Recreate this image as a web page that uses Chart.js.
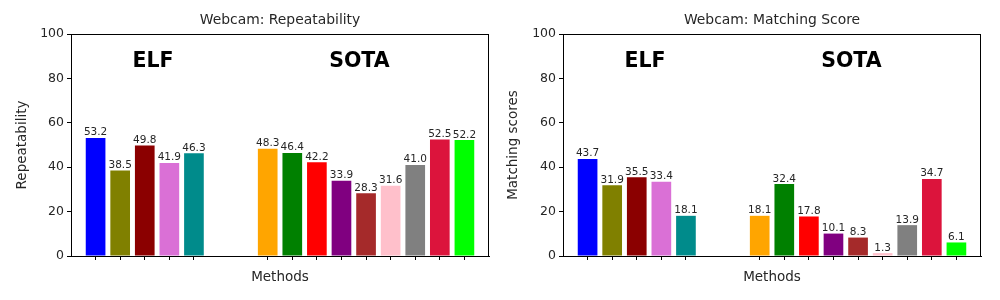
<!DOCTYPE html>
<html>
<head>
<meta charset="utf-8">
<script src="https://cdn.jsdelivr.net/npm/chart.js@4"></script>
<style>
  html, body { margin: 0; padding: 0; background: #fff; }
  .wrap { display: flex; width: 1000px; height: 300px; }
  .cell { position: relative; width: 500px; height: 300px; }
</style>
</head>
<body>
<div class="wrap">
  <div class="cell"><canvas id="repeatChart" width="500" height="300"></canvas></div>
  <div class="cell"><canvas id="matchChart" width="500" height="300"></canvas></div>
</div>
<script>
// bar slots: -1 .. 16, ELF at 0..4, SOTA at 7..15
const positions = [-1, 0, 1, 2, 3, 4, 5, 6, 7, 8, 9, 10, 11, 12, 13, 14, 15, 16];
const elfSlots = [0, 1, 2, 3, 4];
const sotaSlots = [7, 8, 9, 10, 11, 12, 13, 14, 15];

const elfColors = ['#0000ff', '#808000', '#8b0000', '#da70d6', '#008b8b'];
const sotaColors = ['#ffa500', '#008000', '#ff0000', '#800080', '#a52a2a', '#ffc0cb', '#808080', '#dc143c', '#00ff00'];

const elfRepeat = [53.2, 38.5, 49.8, 41.9, 46.3];
const sotaRepeat = [48.3, 46.4, 42.2, 33.9, 28.3, 31.6, 41.0, 52.5, 52.2];

const elfMatch = [43.7, 31.9, 35.5, 33.4, 18.1];
const sotaMatch = [18.1, 32.4, 17.8, 10.1, 8.3, 1.3, 13.9, 34.7, 6.1];

const yTicks = [0, 20, 40, 60, 80, 100];
const FONT = '"DejaVu Sans", sans-serif';
const TEXT = '#262626';

function slotValues(elf, sota) {
  return positions.map(p => {
    let i = elfSlots.indexOf(p);
    if (i >= 0) return elf[i];
    i = sotaSlots.indexOf(p);
    if (i >= 0) return sota[i];
    return null;
  });
}

function slotColors() {
  return positions.map(p => {
    let i = elfSlots.indexOf(p);
    if (i >= 0) return elfColors[i];
    i = sotaSlots.indexOf(p);
    if (i >= 0) return sotaColors[i];
    return 'rgba(0,0,0,0)';
  });
}

const decorPlugin = {
  id: 'decor',
  afterDatasetsDraw(chart, args, opts) {
    const ctx = chart.ctx;
    const area = chart.chartArea;
    const xs = chart.scales.x;
    const ys = chart.scales.y;
    ctx.save();

    // frame
    ctx.strokeStyle = '#000';
    ctx.lineWidth = 1;
    ctx.strokeRect(Math.round(area.left) + 0.5, Math.round(area.top) + 0.5,
      Math.round(area.right - area.left) - 1, Math.round(area.bottom - area.top));

    // value labels
    ctx.fillStyle = TEXT;
    ctx.font = '10.5px ' + FONT;
    ctx.textAlign = 'center';
    ctx.textBaseline = 'bottom';
    const meta = chart.getDatasetMeta(0);
    chart.data.datasets[0].data.forEach((v, i) => {
      if (v === null) return;
      const bar = meta.data[i];
      ctx.fillText(v.toFixed(1), bar.x, bar.y);
    });

    // group labels
    ctx.fillStyle = '#000';
    ctx.font = 'bold 20.5px ' + FONT;
    ctx.textAlign = 'left';
    ctx.textBaseline = 'alphabetic';
    const px = p => xs.getPixelForValue(p + 1);
    ctx.fillText('ELF', px(1.5), ys.getPixelForValue(85));
    ctx.fillText('SOTA', px(9.5), ys.getPixelForValue(85));

    // titles
    ctx.fillStyle = TEXT;
    ctx.font = '13.9px ' + FONT;
    ctx.textAlign = 'center';
    ctx.textBaseline = 'middle';
    const cx = (area.left + area.right) / 2;
    ctx.fillText(opts.title, cx, 20);
    ctx.font = '13.5px ' + FONT;
    ctx.fillText('Methods', cx, 277);
    ctx.translate(opts.yTitleX, (area.top + area.bottom) / 2);
    ctx.rotate(-Math.PI / 2);
    ctx.fillText(opts.yTitle, 0, 0);
    ctx.restore();
  }
};

function makeChart(id, elf, sota, title, yTitle, yTitleX, leftW, rightPad) {
  const ctx = document.getElementById(id).getContext('2d');
  return new Chart(ctx, {
    type: 'bar',
    data: {
      labels: positions.map(String),
      datasets: [{
        data: slotValues(elf, sota),
        backgroundColor: slotColors(),
        borderWidth: 0,
        barPercentage: 0.8,
        categoryPercentage: 1.0
      }]
    },
    options: {
      responsive: false,
      animation: false,
      events: [],
      layout: { padding: { left: 0, right: rightPad, top: 34, bottom: 0 } },
      plugins: {
        legend: { display: false },
        tooltip: { enabled: false },
        decor: { title: title, yTitle: yTitle, yTitleX: yTitleX }
      },
      scales: {
        x: {
          type: 'category',
          offset: false,
          afterFit: s => { s.height = 44; },
          border: { color: '#000', width: 1 },
          grid: {
            offset: false,
            drawOnChartArea: false,
            drawTicks: true,
            tickLength: 4,
            tickWidth: 1,
            tickColor: c => {
              const p = positions[c.index];
              return (elfSlots.includes(p) || sotaSlots.includes(p)) ? '#000' : 'rgba(0,0,0,0)';
            }
          },
          ticks: { display: false, autoSkip: false }
        },
        y: {
          min: 0,
          max: 100,
          afterFit: s => { s.width = leftW; },
          afterBuildTicks: s => { s.ticks = yTicks.map(v => ({ value: v })); },
          border: { color: '#000', width: 1 },
          grid: { drawOnChartArea: false, drawTicks: true, tickLength: 4, tickColor: '#000' },
          ticks: { color: TEXT, padding: 3, font: { family: FONT, size: 12.5 } }
        }
      }
    },
    plugins: [decorPlugin]
  });
}

makeChart('repeatChart', elfRepeat, sotaRepeat, 'Webcam: Repeatability', 'Repeatability', 22, 71, 11);
makeChart('matchChart', elfMatch, sotaMatch, 'Webcam: Matching Score', 'Matching scores', 13.5, 63, 19);
</script>
</body>
</html>
